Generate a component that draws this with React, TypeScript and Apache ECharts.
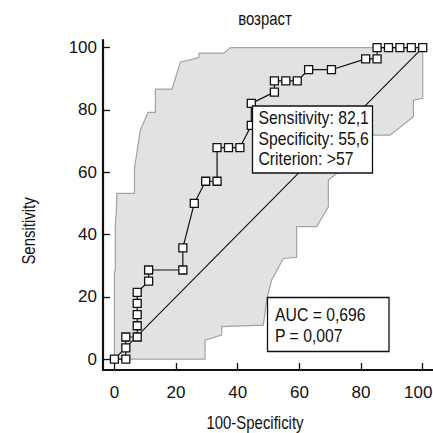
import React, { useEffect, useRef } from "react";
import * as echarts from "echarts";

const FONT = "'Liberation Sans', Arial, sans-serif";
const NARROW = 0.83;

const titleText = "возраст";
const xAxisName = "100-Specificity";
const yAxisName = "Sensitivity";

const xTicks = [0, 20, 40, 60, 80, 100];
const yTicks = [0, 20, 40, 60, 80, 100];

// ROC curve points (100-Specificity, Sensitivity)
const rocX = [0, 3.7, 3.7, 3.7, 7.4, 7.4, 7.4, 7.4, 7.4, 11.1, 11.1, 22.2, 22.2, 25.9, 29.6, 33.3, 33.3, 37.0, 40.7, 44.4, 44.4, 51.9, 51.9, 55.6, 59.3, 63.0, 70.4, 81.5, 85.2, 85.2, 88.9, 92.6, 96.3, 100];
const rocY = [0, 0, 3.6, 7.1, 7.1, 10.7, 14.3, 17.9, 21.4, 25.0, 28.6, 28.6, 35.7, 50.0, 57.1, 57.1, 67.9, 67.9, 67.9, 75.0, 82.1, 85.7, 89.3, 89.3, 89.3, 92.9, 92.9, 96.4, 96.4, 100, 100, 100, 100, 100];

// Confidence band: upper (left/top) boundary from origin to top-right
const bandUpperX = [0, 0, 0.3, 0.3, 0.6, 0.8, 6.5, 6.5, 8.4, 10.9, 13.3, 13.3, 18.7, 21.4, 25.2, 27.4, 27.4, 35.5, 37.7, 100];
const bandUpperY = [0, 27.9, 28.6, 43.7, 46.9, 53.2, 53.2, 61.2, 73.5, 79.2, 79.2, 86.7, 86.7, 95.4, 96.2, 96.9, 98.2, 98.2, 100, 100];
// lower (right/bottom) boundary from top-right back to origin
const bandLowerX = [100, 100, 97.0, 97.0, 89.4, 81.3, 81.3, 75.0, 72.1, 69.4, 69.4, 65.6, 59.1, 59.1, 54.8, 51.0, 49.5, 48.3, 34.8, 34.8, 29.4, 29.4];
const bandLowerY = [100, 83.7, 83.1, 77.8, 71.9, 71.9, 63.0, 61.0, 59.6, 57.5, 48.9, 42.5, 42.5, 32.7, 32.3, 25.4, 19.6, 10.9, 10.4, 7.7, 6.1, 0];

const diagX = [0, 100];
const diagY = [0, 100];

const infoLines = ["Sensitivity: 82,1", "Specificity: 55,6", "Criterion: >57"];
const aucLines = ["AUC = 0,696", "P = 0,007"];

export default function App() {
  const ref = useRef<HTMLDivElement>(null);
  useEffect(() => {
    if (!ref.current) return;
    const chart = echarts.init(ref.current, null, { renderer: "svg" });
    const bandPts: number[][] = [];
    bandUpperX.forEach((x, i) => bandPts.push([x, bandUpperY[i]]));
    bandLowerX.forEach((x, i) => bandPts.push([x, bandLowerY[i]]));

    const txt = (x: number, y: number, s: string, size: number, extra: any = {}, rot = 0) => ({
      type: "text",
      x,
      y,
      z: 100,
      scaleX: NARROW,
      rotation: rot,
      style: {
        text: s,
        font: `${size}px ${FONT}`,
        fill: "#111",
        textVerticalAlign: "middle",
        ...extra,
      },
    });

    chart.setOption({
      animation: false,
      backgroundColor: "#ffffff",
      grid: { left: 103, top: 40, width: 330, height: 330, outerBoundsMode: "none", containLabel: false },
      xAxis: {
        type: "value",
        min: -3.7,
        max: 103.34,
        axisLine: { show: true, onZero: false, lineStyle: { color: "#111", width: 2.2 } },
        splitLine: { show: false },
        axisTick: { show: true, inside: true, length: 7, lineStyle: { color: "#111", width: 1.3 }, customValues: xTicks },
        axisLabel: {
          customValues: xTicks,
          margin: 14,
          fontSize: 17,
          fontFamily: FONT,
          color: "#111",
          formatter: (v: number) => (v === 100 ? `{edge|${v}}` : `${v}`),
          rich: { edge: { fontSize: 17, fontFamily: FONT, color: "#111", padding: [0, 9, 0, 0] } },
        },
      },
      yAxis: {
        type: "value",
        min: -3.5,
        max: 102.44,
        axisLine: { show: true, onZero: false, lineStyle: { color: "#111", width: 2.2 } },
        splitLine: { show: false },
        axisTick: { show: true, inside: true, length: 7, lineStyle: { color: "#111", width: 1.3 }, customValues: yTicks },
        axisLabel: { customValues: yTicks, margin: 6, fontSize: 17, fontFamily: FONT, color: "#111" },
      },
      series: [
        {
          type: "custom",
          z: 1,
          data: [[0, 0]],
          renderItem: (_params: any, api: any) => {
            const points = bandPts.map((p) => api.coord(p));
            return {
              type: "polygon",
              shape: { points },
              style: { fill: "#e1e2e4", stroke: "#a3a3a3", lineWidth: 1.2 },
            };
          },
          silent: true,
        },
        {
          type: "line",
          z: 2,
          data: diagX.map((x, i) => [x, diagY[i]]),
          symbol: "none",
          lineStyle: { color: "#111", width: 1.1 },
          silent: true,
        },
        {
          type: "line",
          z: 3,
          data: rocX.map((x, i) => [x, rocY[i]]),
          symbol: "rect",
          symbolSize: 8,
          itemStyle: { color: "#ffffff", borderColor: "#111", borderWidth: 1.3 },
          lineStyle: { color: "#111", width: 1.2 },
          silent: true,
        },
      ],
      graphic: [
        txt(265, 19, titleText, 18, { textAlign: "center" }),
        txt(29, 231, yAxisName, 18, { textAlign: "center" }, Math.PI / 2),
        txt(255, 423, xAxisName, 18, { textAlign: "center" }),
        {
          type: "rect",
          z: 99,
          shape: { x: 252.5, y: 106, width: 120, height: 67 },
          style: { fill: "#ffffff", stroke: "#111", lineWidth: 1.3 },
        },
        ...infoLines.map((s, i) => txt(258.5, 117.5 + i * 20.5, s, 19)),
        {
          type: "rect",
          z: 99,
          shape: { x: 267.5, y: 297.5, width: 121.5, height: 54 },
          style: { fill: "#ffffff", stroke: "#111", lineWidth: 1.3 },
        },
        ...aucLines.map((s, i) => txt(275, 314 + i * 21, s, 19)),
      ],
    });
    return () => chart.dispose();
  }, []);
  return (
    <div
      ref={ref}
      style={{ position: "fixed", left: 0, top: 0, width: 433, height: 433, background: "#fff" }}
    />
  );
}
